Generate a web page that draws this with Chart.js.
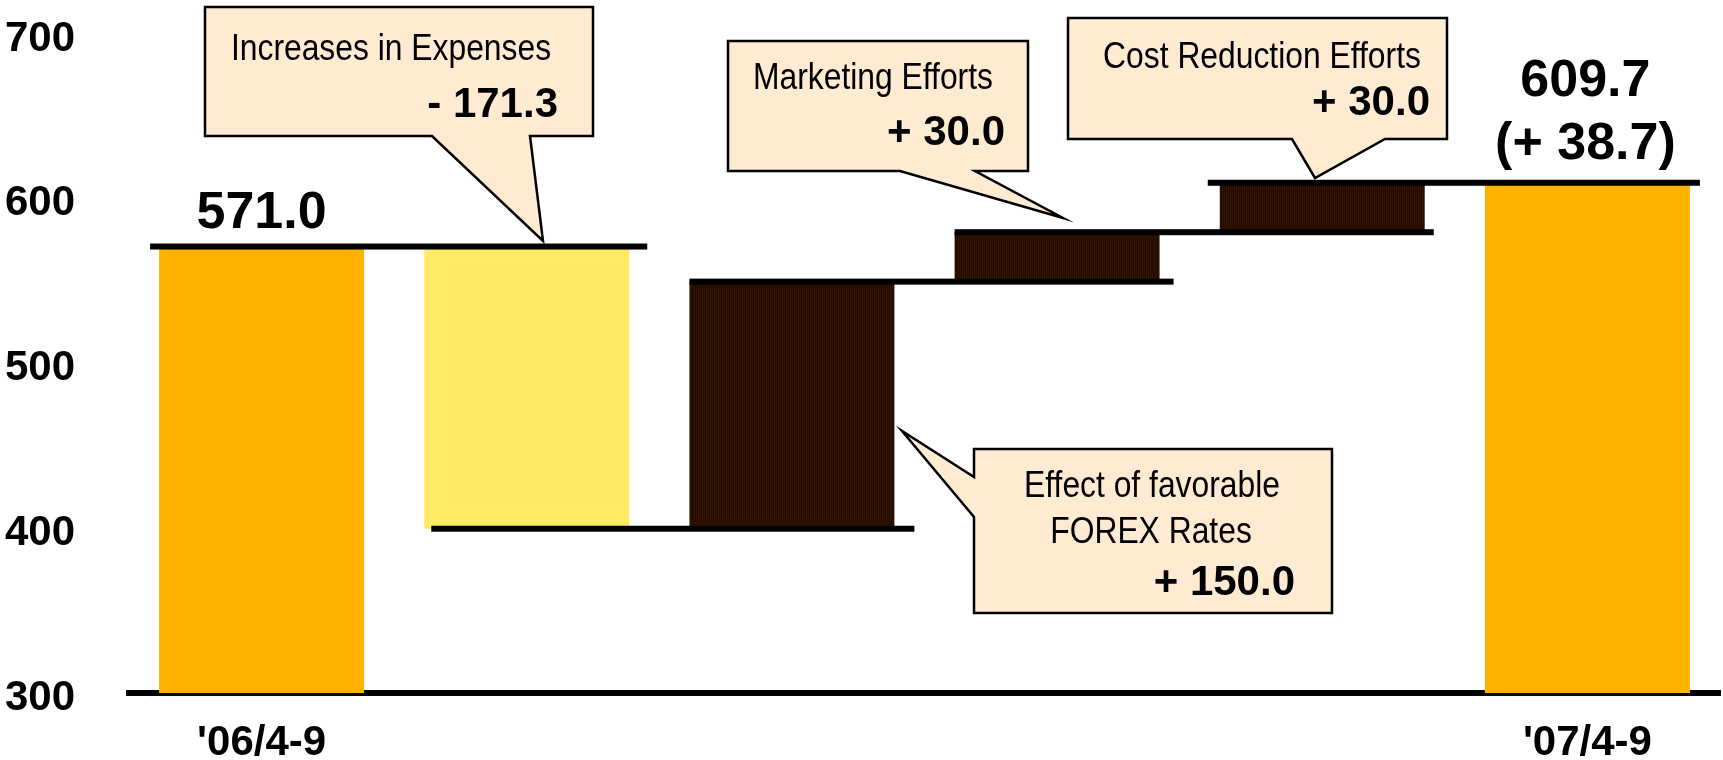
<!DOCTYPE html>
<html>
<head>
<meta charset="utf-8">
<script src="https://cdn.jsdelivr.net/npm/chart.js@4.4.1/dist/chart.umd.min.js"></script>
<style>
  html, body { margin: 0; padding: 0; background: #fff; }
</style>
</head>
<body>
<canvas id="waterfall" width="1723" height="760"></canvas>
<script>
const categories = ["'06/4-9", '', '', '', '', "'07/4-9"];
const startTotal = 571.0;
const changes = [-171.3, 150.0, 30.0, 30.0];
const endTotal = 609.7;
const changeNames = [
    ['Increases in Expenses'],
    ['Effect of favorable', 'FOREX Rates'],
    ['Marketing Efforts'],
    ['Cost Reduction Efforts']
];
const yTicks = [300, 400, 500, 600, 700];
const axisMin = 300;
const axisMax = 700;

// floating bars [bottom, top] and the levels the step lines sit on
const bars = [[axisMin, startTotal]];
const levels = [startTotal];
let running = startTotal;
changes.forEach(c => {
    const next = Math.round((running + c) * 10) / 10;
    bars.push([Math.min(running, next), Math.max(running, next)]);
    levels.push(next);
    running = next;
});
bars.push([axisMin, endTotal]);

const FONT = "'Liberation Sans', Arial, sans-serif";

// striped dark brown fill like the original
function stripes() {
    const c = document.createElement('canvas');
    c.width = 4; c.height = 4;
    const g = c.getContext('2d');
    ['#2f1200', '#1f0800', '#341500', '#260c00'].forEach((col, i) => {
        g.fillStyle = col;
        g.fillRect(i, 0, 1, 4);
    });
    return g.createPattern(c, 'repeat');
}
const dark = stripes();
const barColors = ['#FFB300', '#FFEB64', dark, dark, dark, '#FFB300'];

const fmt = v => (v < 0 ? '- ' : '+ ') + Math.abs(v).toFixed(1);

const callouts = [
    { pts: [[205,7],[593,7],[593,136],[530,136],[543,241],[432,136],[205,136]],
      lines: [[391,60]], value: [558,117] },
    { pts: [[974,449],[1332,449],[1332,613],[974,613],[974,517],[902,431],[974,477]],
      lines: [[1152,497],[1151,543]], value: [1295,595] },
    { pts: [[728,41],[1028,41],[1028,171],[975,171],[1063,218],[900,171],[728,171]],
      lines: [[873,89]], value: [1005,145] },
    { pts: [[1068,18],[1447,18],[1447,139],[1385,139],[1315,178],[1292,139],[1068,139]],
      lines: [[1262,68]], value: [1430,115] }
];

const stepLines = {
    id: 'stepLines',
    afterDatasetsDraw(chart) {
        const ctx = chart.ctx;
        const y = chart.scales.y;
        const els = chart.getDatasetMeta(0).data;
        const startOff = [-9, 7, 0, 0, -12];
        const endOff = [18, 20, 14, 9, 10];
        ctx.save();
        ctx.fillStyle = '#000';
        levels.forEach((lv, i) => {
            const a = els[i], b = els[i + 1];
            const x1 = a.x - a.width / 2 + startOff[i];
            const x2 = b.x + b.width / 2 + endOff[i];
            const py = y.getPixelForValue(lv);
            ctx.fillRect(x1, py - 3, x2 - x1, 6);
        });
        ctx.restore();
    },
    afterDraw(chart) {
        const ctx = chart.ctx;
        const y = chart.scales.y;
        const els = chart.getDatasetMeta(0).data;
        ctx.save();
        ctx.fillStyle = '#000';
        ctx.textAlign = 'center';
        ctx.textBaseline = 'alphabetic';
        ctx.font = 'bold 52px ' + FONT;
        ctx.fillText(startTotal.toFixed(1), els[0].x, y.getPixelForValue(startTotal) - 19);
        const last = els[els.length - 1];
        const ly = y.getPixelForValue(endTotal);
        ctx.fillText(endTotal.toFixed(1), last.x - 2, ly - 87);
        ctx.fillText('(+ ' + (endTotal - startTotal).toFixed(1) + ')', last.x - 2, ly - 24);

        callouts.forEach((c, i) => {
            ctx.beginPath();
            c.pts.forEach((p, k) => k ? ctx.lineTo(p[0], p[1]) : ctx.moveTo(p[0], p[1]));
            ctx.closePath();
            ctx.fillStyle = '#FFEBD2';
            ctx.fill();
            ctx.lineWidth = 2.5;
            ctx.strokeStyle = '#000';
            ctx.lineJoin = 'miter';
            ctx.stroke();

            ctx.fillStyle = '#000';
            ctx.font = '37px ' + FONT;
            ctx.textAlign = 'center';
            changeNames[i].forEach((t, k) => {
                ctx.save();
                ctx.translate(c.lines[k][0], c.lines[k][1]);
                ctx.scale(0.86, 1);
                ctx.fillText(t, 0, 0);
                ctx.restore();
            });
            ctx.font = 'bold 42px ' + FONT;
            ctx.textAlign = 'right';
            ctx.fillText(fmt(changes[i]), c.value[0], c.value[1]);
        });
        ctx.restore();
    }
};

new Chart(document.getElementById('waterfall'), {
    type: 'bar',
    data: {
        labels: categories,
        datasets: [{
            data: bars,
            backgroundColor: barColors,
            borderWidth: 0,
            barPercentage: 0.773,
            categoryPercentage: 1
        }]
    },
    options: {
        responsive: false,
        animation: false,
        layout: { padding: { top: 34, right: 3, left: 0, bottom: 0 } },
        plugins: {
            legend: { display: false },
            tooltip: { enabled: false }
        },
        scales: {
            x: {
                z: 1,
                grid: { display: false },
                border: { display: true, color: '#000', width: 6 },
                ticks: {
                    color: '#000',
                    font: { family: FONT, size: 42, weight: 'bold' },
                    padding: 17,
                    maxRotation: 0,
                    autoSkip: false
                },
                afterFit: s => {
                    s.height = 67;
                    s.paddingLeft = 0;
                    s.paddingRight = 0;
                }
            },
            y: {
                min: axisMin,
                max: axisMax,
                grid: { display: false },
                border: { display: false },
                afterBuildTicks: s => { s.ticks = yTicks.map(v => ({ value: v })); },
                ticks: {
                    color: '#000',
                    font: { family: FONT, size: 42, weight: 'bold' },
                    padding: 46,
                    labelOffset: 5
                },
                afterFit: s => {
                    s.width = 129;
                    s.paddingTop = 0;
                    s.paddingBottom = 0;
                }
            }
        }
    },
    plugins: [stepLines]
});
</script>
</body>
</html>
